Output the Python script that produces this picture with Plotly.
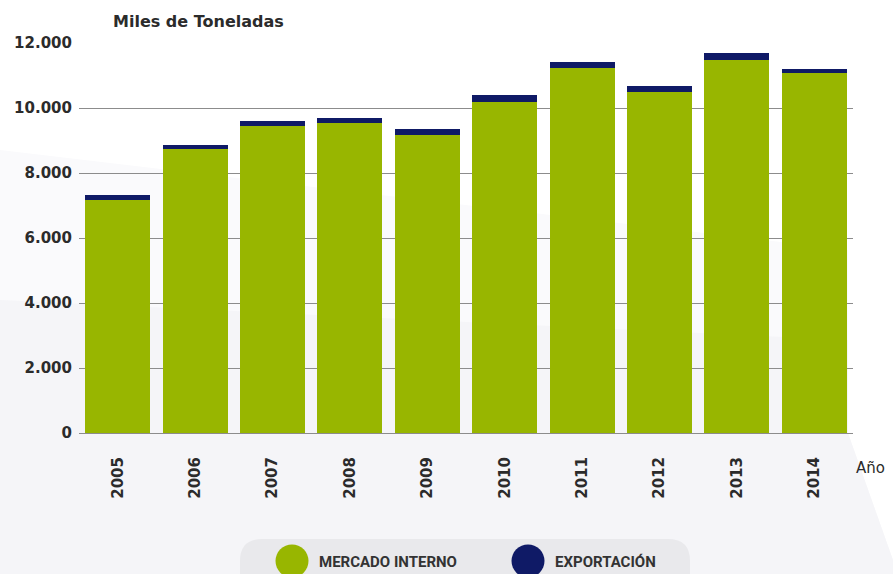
import plotly.graph_objects as go

# ---- data ----
years = ["2005", "2006", "2007", "2008", "2009", "2010", "2011", "2012", "2013", "2014"]
mercado_interno = [7170, 8740, 9460, 9530, 9160, 10190, 11220, 10480, 11480, 11070]
exportacion = [150, 120, 150, 150, 200, 210, 200, 200, 210, 130]
y_ticks = [0, 2000, 4000, 6000, 8000, 10000, 12000]

GREEN = "#98b600"
NAVY = "#0f1a66"
TXT = "#2b2b2b"
FONT = "DejaVu Sans"

W, H = 893, 574
L, R, T, B = 79, 853, 43, 433  # plot area in pixels


def px(x):
    return (x - L) / (R - L)


def py(y):
    return (B - y) / (B - T)


fig = go.Figure()
fig.add_trace(go.Bar(x=years, y=mercado_interno, name="MERCADO INTERNO",
                     marker=dict(color=GREEN, line=dict(width=0)), showlegend=False))
fig.add_trace(go.Bar(x=years, y=exportacion, name="EXPORTACIÓN",
                     marker=dict(color=NAVY, line=dict(width=0)), showlegend=False))

shapes = []


def poly(points, color):
    d = "M " + " L ".join(f"{px(x):.5f},{py(y):.5f}" for x, y in points) + " Z"
    return dict(type="path", xref="paper", yref="paper", path=d,
                fillcolor=color, line=dict(width=0), layer="below")


# subtle light-gray background areas
shapes.append(poly([(0, 150), (848, 250), (848, 433), (893, 560), (893, 574), (0, 574)], "#fafafc"))
shapes.append(poly([(0, 300), (848, 340), (848, 433), (893, 560), (893, 574), (0, 574)], "#f5f5f8"))

# legend pill (rounded rectangle)
x0, x1, y0, y1, r = 240, 690, 539, 600, 22
pts = (f"M {px(x0 + r):.5f},{py(y0):.5f} L {px(x1 - r):.5f},{py(y0):.5f} "
       f"Q {px(x1):.5f},{py(y0):.5f} {px(x1):.5f},{py(y0 + r):.5f} "
       f"L {px(x1):.5f},{py(y1):.5f} L {px(x0):.5f},{py(y1):.5f} "
       f"L {px(x0):.5f},{py(y0 + r):.5f} Q {px(x0):.5f},{py(y0):.5f} {px(x0 + r):.5f},{py(y0):.5f} Z")
shapes.append(dict(type="path", xref="paper", yref="paper", path=pts,
                   fillcolor="#e9e9ec", line=dict(width=0), layer="below"))

# legend circles
for cx, col in [(292, GREEN), (528, NAVY)]:
    rr = 16.5
    shapes.append(dict(type="circle", xref="paper", yref="paper",
                       x0=px(cx - rr), x1=px(cx + rr), y0=py(561 + rr), y1=py(561 - rr),
                       fillcolor=col, line=dict(width=0), layer="above"))

annotations = [
    dict(text="Miles de Toneladas", xref="paper", yref="paper", x=px(111), y=py(22),
         xanchor="left", yanchor="middle", showarrow=False,
         font=dict(family=FONT, size=16, color=TXT, weight="bold")),
    dict(text="Año", xref="paper", yref="paper", x=px(854), y=py(468),
         xanchor="left", yanchor="middle", showarrow=False,
         font=dict(family=FONT, size=15, color=TXT)),
    dict(text="MERCADO INTERNO", xref="paper", yref="paper", x=px(317), y=py(562),
         xanchor="left", yanchor="middle", showarrow=False,
         font=dict(family="Roboto", size=15, color="#333333", weight="bold")),
    dict(text="EXPORTACIÓN", xref="paper", yref="paper", x=px(553), y=py(562),
         xanchor="left", yanchor="middle", showarrow=False,
         font=dict(family="Roboto", size=15, color="#333333", weight="bold")),
]

fig.update_layout(
    width=W, height=H,
    margin=dict(l=L, r=W - R, t=T, b=H - B, autoexpand=False),
    paper_bgcolor="white", plot_bgcolor="rgba(0,0,0,0)",
    barmode="stack", bargap=0.16,
    separators=",.",
    shapes=shapes, annotations=annotations,
    showlegend=False,
    xaxis=dict(type="category", tickangle=-90, ticks="", showgrid=False,
               showline=False, zeroline=False, automargin=False,
               ticklabelstandoff=20,
               tickfont=dict(family=FONT, size=15, color=TXT, weight="bold")),
    yaxis=dict(range=[0, 12000], tickvals=y_ticks, tickformat=",d",
               showgrid=True, gridcolor="#8c8c8c", gridwidth=1.2,
               zeroline=True, zerolinecolor="#8c8c8c", zerolinewidth=1.2,
               showline=False, ticks="", automargin=False, ticklabelstandoff=6,
               tickfont=dict(family=FONT, size=15, color=TXT, weight="bold")),
)

fig.write_html("out.html", config={"displayModeBar": False},
               post_script="document.body.style.margin='0';document.body.style.padding='0';")
